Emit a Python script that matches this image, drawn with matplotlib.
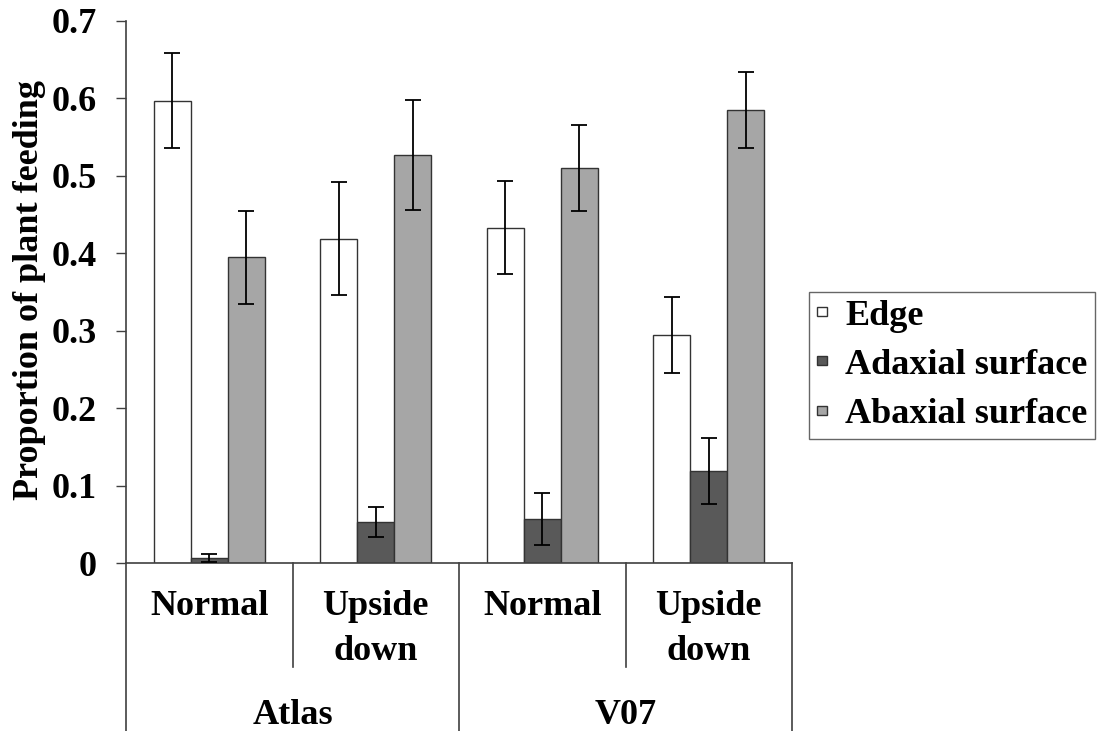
import numpy as np
import matplotlib
matplotlib.use("Agg")
import matplotlib.pyplot as plt
import matplotlib.transforms as mtransforms

plt.rcParams["font.family"] = ["Liberation Serif", "DejaVu Serif"]
plt.rcParams["font.weight"] = "bold"

# proportions of plant feeding per leaf position, with standard errors
groups = ["Atlas", "V07"]
orientations = ["Normal", "Upside\ndown", "Normal", "Upside\ndown"]
series_names = ["Edge", "Adaxial surface", "Abaxial surface"]

edge = [0.597, 0.419, 0.433, 0.295]
edge_err = [0.061, 0.073, 0.060, 0.049]
adaxial = [0.007, 0.053, 0.057, 0.119]
adaxial_err = [0.005, 0.019, 0.034, 0.043]
abaxial = [0.395, 0.527, 0.510, 0.585]
abaxial_err = [0.060, 0.071, 0.056, 0.049]

colors = ["white", "#595959", "#a6a6a6"]
axis_col = "#404040"
fs = 26

fig = plt.figure(figsize=(11.01, 7.31), dpi=100)
ax = fig.add_axes([126 / 1101, 1 - 563.3 / 731, 666 / 1101, 542.6 / 731])

x = np.arange(len(orientations))
w = 0.222
for k, (vals, errs) in enumerate([(edge, edge_err), (adaxial, adaxial_err), (abaxial, abaxial_err)]):
    pos = x + (k - 1) * w
    ax.bar(pos, vals, width=w, color=colors[k], edgecolor="#333333", linewidth=1.0,
           label=series_names[k], zorder=2)
    ax.errorbar(pos, vals, yerr=errs, fmt="none", ecolor="black", elinewidth=1.3,
                capsize=5.5, capthick=1.3, zorder=3)

ax.set_xlim(-0.5, 3.5)
ax.set_ylim(0, 0.7)
ax.set_yticks(np.arange(0, 0.71, 0.1))
ax.set_yticklabels(["0"] + [f"{v:.1f}" for v in np.arange(0.1, 0.71, 0.1)])
ax.tick_params(axis="y", length=7.2, width=1, color=axis_col, pad=14, labelsize=fs)
ax.set_xticks([])
for s in ["top", "right"]:
    ax.spines[s].set_visible(False)
for s in ["left", "bottom"]:
    ax.spines[s].set_color(axis_col)
    ax.spines[s].set_linewidth(1.2)

# two-level category axis drawn below the plot
trans = mtransforms.blended_transform_factory(ax.transData, ax.transAxes)
for b in [-0.5, 1.5, 3.5]:
    ax.plot([b, b], [0, -0.31], transform=trans, color=axis_col, lw=1.2, clip_on=False)
for b in [0.5, 2.5]:
    ax.plot([b, b], [0, -0.1906], transform=trans, color=axis_col, lw=1.2, clip_on=False)

for i, lab in enumerate(orientations):
    lines = lab.split("\n")
    for j, ln in enumerate(lines):
        ax.text(x[i], -0.080 - 0.083 * j, ln, transform=trans, ha="center", va="center",
                fontsize=fs, fontweight="bold")
for g, name in enumerate(groups):
    ax.text(2 * g + 0.5, -0.2796, name, transform=trans, ha="center", va="center",
            fontsize=fs, fontweight="bold")

fig.text(30 / 1101, 1 - 290 / 731, "Proportion of plant feeding", rotation=90,
         ha="center", va="center", fontsize=fs, fontweight="bold")

# small square swatches in the legend
leg = fig.legend(loc="upper left", bbox_to_anchor=(809 / 1101, 1 - 292 / 731),
                 borderaxespad=0, fancybox=False, frameon=True, fontsize=fs,
                 handlelength=0.28, handleheight=0.01, handletextpad=0.5,
                 labelspacing=0.45, borderpad=0.22)
leg.get_frame().set_edgecolor(axis_col)
leg.get_frame().set_linewidth(1.0)

fig.savefig("out.png", dpi=100)
